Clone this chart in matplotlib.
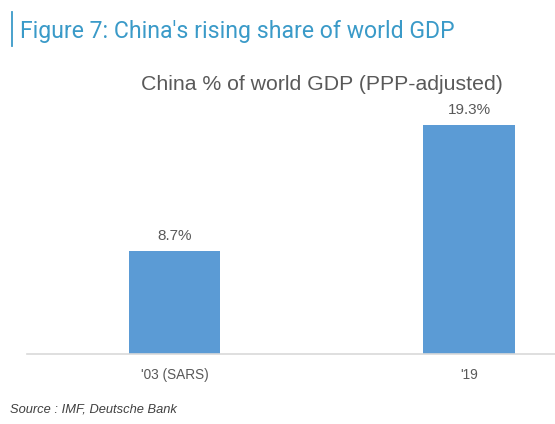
import matplotlib
matplotlib.use("Agg")
import matplotlib.pyplot as plt
from matplotlib.lines import Line2D

categories = ["'03 (SARS)", "'19"]
values = [8.7, 19.3]
value_labels = ["8.7%", "19.3%"]

title = "Figure 7: China's rising share of world GDP"
subtitle = "China % of world GDP (PPP-adjusted)"
source = "Source : IMF, Deutsche Bank"

plt.rcParams['font.family'] = ['Roboto', 'DejaVu Sans']
arial = ['Liberation Sans', 'DejaVu Sans']

W, H = 555, 424
fig = plt.figure(figsize=(W/100, H/100), dpi=100)
fig.patch.set_facecolor('white')

ax_left, ax_right = 27, 555
ax_bottom, ax_top = 354, 100
ax = fig.add_axes([ax_left/W, 1 - ax_bottom/H, (ax_right-ax_left)/W, (ax_bottom-ax_top)/H])

x = list(range(len(categories)))
bar_color = '#5B9BD5'
ax.bar(x, values, width=0.31, color=bar_color)
ax.set_xlim(-0.501, 1.292)
px_per_unit = 229/19.3
ax.set_ylim(0, (ax_bottom-ax_top)/px_per_unit)

for xi, v, lab in zip(x, values, value_labels):
    ax.annotate(lab, (xi, v), xytext=(0, 5.5), textcoords='offset points',
                ha='center', va='bottom', fontsize=11, color='#595959', family=arial)

ax.set_xticks(x)
ax.set_xticklabels(categories, fontsize=9.8, color='#595959', family=arial)
ax.tick_params(axis='x', length=0, pad=10)
ax.set_yticks([])
for s in ['top', 'right', 'left']:
    ax.spines[s].set_visible(False)
ax.spines['bottom'].set_color('#D9D9D9')
ax.spines['bottom'].set_linewidth(1.2)
ax.set_facecolor('white')

fig.add_artist(Line2D([12/W, 12/W], [1-12/H, 1-46/H], color='#3A9AC8', linewidth=1.3))
fig.text(20/W, 1-38/H, title, fontsize=16.6, color='#3A9AC8', ha='left', va='baseline')

fig.text(322/W, 1-85/H, subtitle, fontsize=15.3, color='#595959', ha='center', va='center', family=arial)

fig.text(10/W, 1-410/H, source, fontsize=9.3, style='italic', color='#404040', ha='left', va='center', family=arial)

fig.savefig('out.png', dpi=100, facecolor='white')
